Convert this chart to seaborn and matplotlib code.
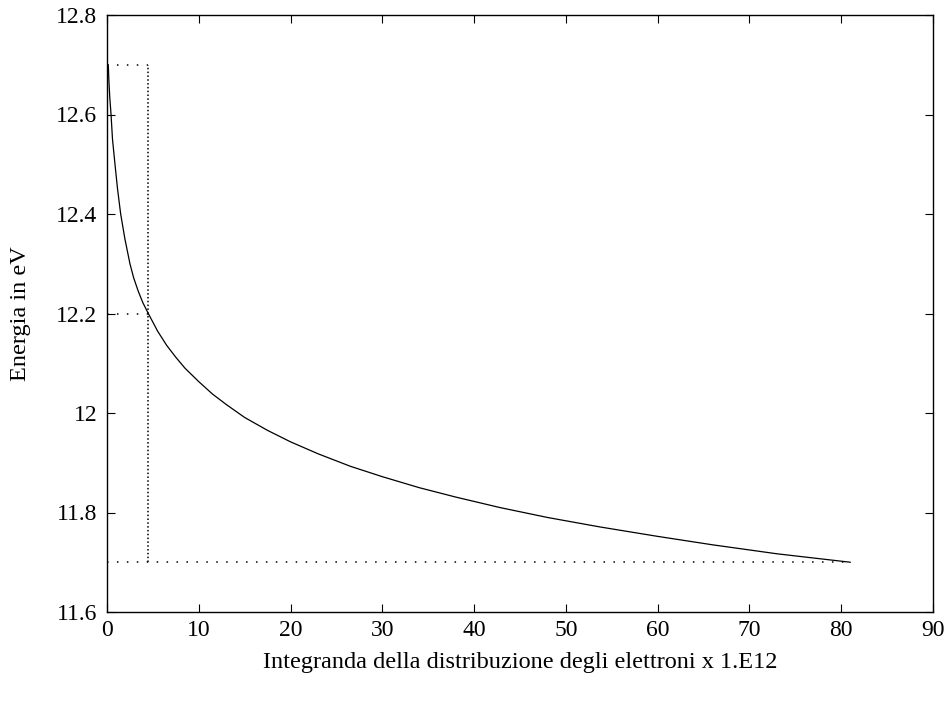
import numpy as np
import pandas as pd
import matplotlib
matplotlib.use("Agg")
import matplotlib.pyplot as plt
import seaborn as sns

# Curve
integrand = [0.14, 0.2, 0.3, 0.44, 0.6, 0.87, 1.15, 1.49, 1.95, 2.5, 2.9, 3.4, 3.9, 4.5,
             5.5, 6.5, 7.5, 8.5, 10.0, 11.5, 13.0, 15.0, 17.5, 20.0, 23.0, 26.5,
             30.0, 34.0, 38.0, 42.8, 48.0, 53.7, 60.0, 66.0, 73.0, 81.0]
energy = [12.700, 12.670, 12.635, 12.600, 12.550, 12.500, 12.450, 12.400, 12.350,
          12.300, 12.272, 12.245, 12.222, 12.200, 12.165, 12.136, 12.112, 12.090,
          12.063, 12.038, 12.017, 11.991, 11.965, 11.942, 11.918, 11.893, 11.872,
          11.850, 11.831, 11.810, 11.790, 11.771, 11.752, 11.735, 11.717, 11.700]

# Dotted guide lines
x_cut = 4.5
e_top, e_mid, e_low = 12.7, 12.2, 11.7
x_end = 81.0

xticks = [0, 10, 20, 30, 40, 50, 60, 70, 80, 90]
yticks = [11.6, 11.8, 12.0, 12.2, 12.4, 12.6, 12.8]
ytick_labels = ["11.6", "11.8", "12", "12.2", "12.4", "12.6", "12.8"]

sns.set_theme(style="white")
plt.rcParams['font.family'] = ['Liberation Serif', 'DejaVu Serif']
plt.rcParams['text.color'] = 'black'
plt.rcParams['axes.labelcolor'] = 'black'

fig = plt.figure(figsize=(9.5, 7.02), dpi=100)
ax = fig.add_axes([107/950, 1-612/702, (933-107)/950, (612-15)/702])

df = pd.DataFrame({"x": integrand, "y": energy})
sns.lineplot(data=df, x="x", y="y", ax=ax, color="black", linewidth=0.9,
             sort=False, estimator=None)

hdots = (0, (1, 5.5))
vdots = (0, (1, 1.5))
ax.plot([0, x_cut], [e_top, e_top], color="black", linewidth=1.1, linestyle=hdots)
ax.plot([0, x_cut], [e_mid, e_mid], color="black", linewidth=1.1, linestyle=hdots)
ax.plot([0, x_end], [e_low, e_low], color="black", linewidth=1.1, linestyle=hdots)
ax.plot([x_cut, x_cut], [e_low, e_top], color="black", linewidth=1.1, linestyle=vdots)

ax.set_xlim(0, 90)
ax.set_ylim(11.6, 12.8)
ax.set_xticks(xticks)
ax.set_xticklabels([str(t) for t in xticks])
ax.set_yticks(yticks)
ax.set_yticklabels(ytick_labels)

for s in ax.spines.values():
    s.set_color("black")
    s.set_linewidth(1.0)

ax.tick_params(axis="both", which="both", direction="in", length=6, width=0.8,
               top=True, right=True, bottom=True, left=True, labelsize=17,
               colors="black", labelcolor="black")
ax.tick_params(axis="y", pad=7)
ax.tick_params(axis="x", pad=6)

ax.set_xlabel("Integranda della distribuzione degli elettroni x 1.E12", fontsize=17.5,
              labelpad=8, color="black")
ax.set_ylabel("Energia in eV", fontsize=17.5, labelpad=18, color="black")

fig.savefig("out.png", dpi=100)
